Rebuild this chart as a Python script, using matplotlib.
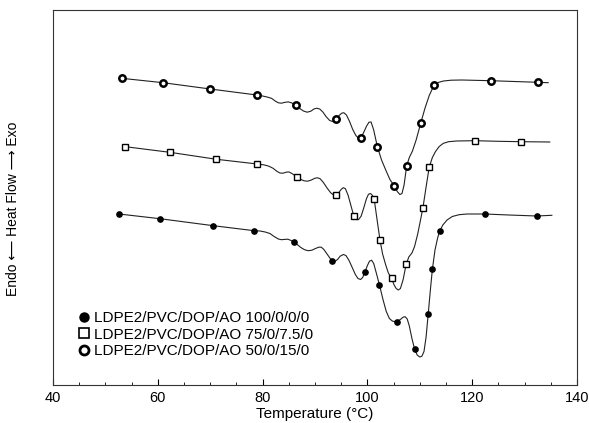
import matplotlib.pyplot as plt
from matplotlib.lines import Line2D
from matplotlib.ticker import MultipleLocator

plt.rcParams['font.family'] = ['Liberation Sans', 'DejaVu Sans']

# DSC curves (heat flow in arbitrary units, curves offset)
# LDPE2/PVC/DOP/AO 100/0/0/0
temp_a = [52.6, 60.4, 70.6, 78.4, 79.5, 80.5, 81.4, 82.2, 83.0, 83.6, 84.2, 84.8, 85.4, 85.9,
          86.6, 87.3, 88.0, 88.7, 89.4, 90.1, 90.7, 91.2, 91.7, 92.3, 92.9, 93.3, 93.8, 94.3,
          94.8, 95.4, 95.9, 96.5, 97.1, 97.7, 98.2, 98.7, 99.1, 99.5, 100.0, 100.4, 100.8, 101.2,
          101.7, 102.3, 103.0, 103.6, 104.2, 104.8, 105.6, 106.3, 106.8, 107.2, 107.6, 108.0, 108.5,
          109.0, 109.5, 110.0, 110.4, 110.8, 111.2, 111.6, 112.0, 112.4, 112.9, 113.4, 113.8, 114.4,
          115.2, 116.2, 117.5, 119.0, 122.4, 127.0, 132.3, 135.2]
flow_a = [171, 166.3, 159.3, 154.3, 154, 153, 151.5, 148.5, 146, 145.3, 145.6, 145.8, 144.6, 143,
          140.5, 137.5, 135.3, 134.3, 134.8, 136.5, 137.8, 137.8, 135.5, 131, 126.5, 124.5, 123.6, 125.5,
          128.8, 130.5, 129.5, 124.5, 117.5, 110.5, 106.5, 105.5, 107.5, 112.7, 119.5, 123.8, 124.8, 121.5,
          112, 100, 85, 73.5, 66.5, 63.8, 63.3, 65.5, 67.8, 68.3, 66, 59, 46.5,
          36, 30, 28, 28.8, 33.5, 48, 70.7, 94, 115.7, 135, 147, 154, 160,
          165, 168.5, 170.3, 171, 171, 170, 169, 169.7]
marks_a = [52.6, 60.4, 70.6, 78.4, 85.9, 93.3, 99.5, 102.3, 105.6, 109.0, 111.6, 112.4, 113.8, 122.4, 132.3]

# LDPE2/PVC/DOP/AO 75/0/7.5/0
temp_b = [53.8, 62.3, 71.2, 79.0, 80.2, 81.2, 82.0, 82.7, 83.3, 83.9, 84.5, 85.0, 85.6, 86.5,
          87.2, 87.9, 88.6, 89.3, 90.0, 90.5, 91.0, 91.6, 92.3, 93.0, 93.5, 94.0, 94.5, 95.0,
          95.4, 95.8, 96.3, 96.8, 97.4, 97.9, 98.3, 98.8, 99.3, 99.8, 100.2, 100.6, 101.0, 101.3,
          101.8, 102.4, 102.9, 103.5, 104.0, 104.6, 105.1, 105.5, 105.9, 106.3, 106.8, 107.4, 107.9,
          108.5, 109.0, 109.6, 110.1, 110.6, 111.2, 111.8, 112.4, 113.0, 113.7, 114.5, 115.5, 117.0,
          120.5, 125.0, 129.4, 134.8]
flow_b = [238.3, 232.7, 225.7, 221, 220.2, 218.8, 216.7, 213.8, 212, 211.8, 212.8, 213.1, 211.5, 208.3,
          205.8, 204.2, 203.8, 205, 206.8, 207.2, 206.2, 202.5, 197, 192.2, 190.2, 190, 192, 195.7,
          197.3, 196.3, 190, 180.5, 169, 165.5, 165.3, 168.8, 177, 186, 190.7, 191.5, 189.3, 185.7,
          167, 145, 131, 120, 112, 106.7, 100, 96.5, 95, 96.5, 105, 120.7, 128,
          132, 138.5, 151, 164, 177.3, 198, 218, 227.5, 233.5, 238.5, 241.7, 243.3, 244,
          244.3, 243.7, 243.3, 243]
marks_b = [53.8, 62.3, 71.2, 79.0, 86.5, 94.0, 97.4, 101.3, 102.4, 104.6, 107.4, 110.6, 111.8, 120.5, 129.4]

# LDPE2/PVC/DOP/AO 50/0/15/0
temp_c = [53.1, 61.0, 70.0, 78.9, 80.0, 81.0, 81.7, 82.4, 83.0, 83.6, 84.2, 84.9, 85.5, 86.4,
          87.1, 87.8, 88.5, 89.2, 89.8, 90.3, 90.9, 91.5, 92.1, 92.8, 93.5, 94.0, 94.6, 95.1,
          95.5, 96.0, 96.6, 97.2, 97.8, 98.3, 98.7, 99.2, 99.8, 100.3, 100.7, 101.2, 101.9, 102.7,
          103.5, 104.3, 105.1, 105.7, 106.2, 106.6, 107.0, 107.5, 108.0, 108.6, 109.3, 110.2, 111.0,
          111.8, 112.7, 113.5, 114.5, 116.0, 118.0, 123.5, 128.0, 132.6, 134.5]
flow_c = [306.7, 302.3, 296, 290, 289, 287.8, 286.7, 284, 282.2, 281.8, 282.6, 283.1, 282.2, 279.7,
          276.5, 274, 272.8, 273.8, 276, 276.8, 276, 273, 268.5, 264.5, 263.3, 265.7, 269.5, 271.8,
          272.3, 270, 263.5, 255.5, 249.5, 246.8, 247.3, 251.5, 258.5, 262.8, 263, 255, 238.3, 225,
          215, 205.5, 199.3, 193.5, 190.5, 191.5, 200, 219.3, 227.5, 234, 245, 262.3, 277,
          289.5, 299.7, 302.5, 304, 304.8, 305, 304.3, 303.5, 302.7, 302.3]
marks_c = [53.1, 61.0, 70.0, 78.9, 86.4, 94.0, 98.7, 101.9, 105.1, 107.5, 110.2, 112.7, 123.5, 132.6]

labels = ['LDPE2/PVC/DOP/AO 100/0/0/0',
          'LDPE2/PVC/DOP/AO 75/0/7.5/0',
          'LDPE2/PVC/DOP/AO 50/0/15/0']

fig = plt.figure(figsize=(5.89, 4.23), dpi=100)
ax = fig.add_axes([53 / 589, 38 / 423, 524 / 589, 375 / 423])

ax.plot(temp_a, flow_a, color='#222222', lw=0.8, marker='o', ms=3.8, mfc='black', mec='black',
        markevery=[temp_a.index(t) for t in marks_a])
ax.plot(temp_b, flow_b, color='#222222', lw=0.8, marker='s', ms=4.6, mfc='white', mec='black', mew=1.0,
        markevery=[temp_b.index(t) for t in marks_b])
ax.plot(temp_c, flow_c, color='#222222', lw=0.8, marker='o', ms=4.6, mfc='white', mec='black', mew=1.8,
        markevery=[temp_c.index(t) for t in marks_c])

ax.set_xlim(40, 140)
ax.set_ylim(0, 375)
ax.xaxis.set_major_locator(MultipleLocator(20))
ax.xaxis.set_minor_locator(MultipleLocator(5))
ax.tick_params(axis='x', which='major', direction='in', length=4, width=0.8, labelsize=10.5, pad=4)
ax.tick_params(axis='x', which='minor', direction='in', length=2.5, width=0.6)
ax.set_yticks([])
for s in ax.spines.values():
    s.set_linewidth(0.8)
    s.set_color('#333333')

ax.set_xlabel('Temperature (°C)', fontsize=11, labelpad=2)
ax.set_ylabel('Endo \u27f5 Heat Flow \u27f6 Exo', fontsize=10)
ax.yaxis.set_label_coords(-0.063, 0.47)

handles = [
    Line2D([], [], ls='none', marker='o', ms=6.5, mfc='black', mec='black'),
    Line2D([], [], ls='none', marker='s', ms=6.5, mfc='white', mec='black', mew=1.2),
    Line2D([], [], ls='none', marker='o', ms=6.5, mfc='white', mec='black', mew=2.0),
]
ax.legend(handles, labels, loc='lower left', bbox_to_anchor=(0.05, 0.072), frameon=False,
          fontsize=11, handlelength=0.6, handletextpad=0.35, labelspacing=0.15,
          borderpad=0, borderaxespad=0)

fig.savefig('out.png', dpi=100)
